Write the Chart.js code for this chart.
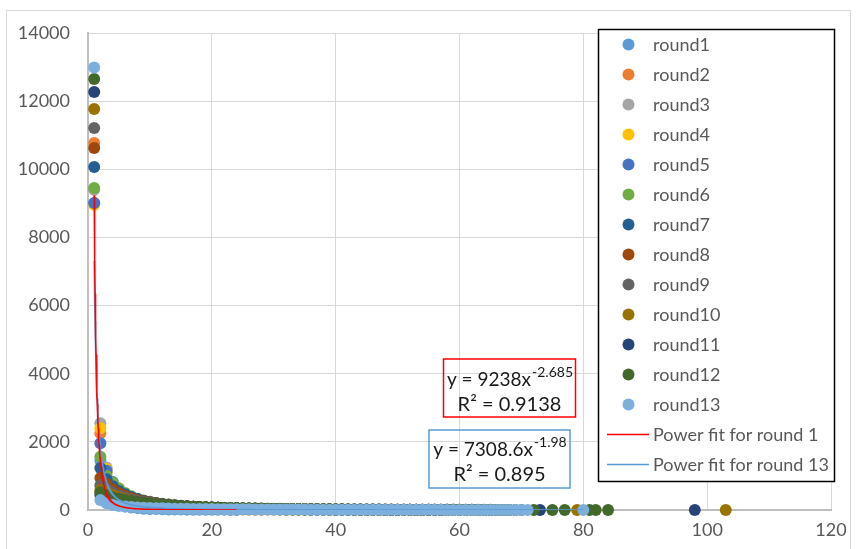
<!DOCTYPE html>
<html>
<head>
<meta charset="utf-8">
<script src="https://cdn.jsdelivr.net/npm/chart.js@4.4.1/dist/chart.umd.min.js"></script>
<style>
  html, body { margin: 0; padding: 0; background: #fff; }
  #wrap { width: 856px; height: 549px; }
</style>
</head>
<body>
<div id="wrap"><canvas id="chart" width="856" height="549"></canvas></div>
<script>
// Node counts per degree, one series per round (y at x = 1, 2, 3, ...)
const roundLabels = ['round1', 'round2', 'round3', 'round4', 'round5', 'round6', 'round7',
  'round8', 'round9', 'round10', 'round11', 'round12', 'round13'];
const roundColors = ['#5B9BD5', '#ED7D31', '#A5A5A5', '#FFC000', '#4472C4', '#70AD47', '#255E91',
  '#9E480E', '#636363', '#997300', '#264478', '#43682B', '#7CAFDD'];

const round1 = [9000, 1450, 520, 250, 150, 100, 70, 55, 40, 32, 26, 21, 18, 15, 13, 11, 9, 8, 7, 6, 5, 4, 3, 2];
const round2 = [10770, 2250, 1100, 650, 430, 310, 240, 190, 150, 125, 105, 90, 78, 68, 60, 52, 46, 40, 35, 31,
  27, 24, 20, 17, 14, 11, 8, 5];
const round3 = [9400, 2545, 1250, 760, 500, 370, 290, 230, 190, 160, 135, 115, 100, 88, 78, 69, 61, 54, 48, 43,
  38, 34, 30, 27, 24, 21, 18, 15, 12, 9, 6, 3];
const round4 = [8960, 2400, 1200, 780, 540, 400, 310, 250, 205, 172, 146, 126, 110, 96, 85, 75, 67, 60, 54, 48,
  43, 39, 35, 31, 28, 25, 22, 20, 17, 15, 13, 11, 9, 7, 5, 3];
const round5 = [9010, 1960, 1150, 820, 600, 450, 350, 285, 235, 198, 170, 147, 128, 112, 99, 88, 78, 70, 63, 57,
  51, 46, 42, 38, 34, 31, 28, 25, 23, 21, 19, 17, 15, 13, 11, 9, 7, 5, 4, 2];
const round6 = [9450, 1560, 1000, 800, 640, 500, 400, 330, 280, 240, 205, 178, 155, 136, 120, 106, 94, 84, 75, 67,
  60, 54, 49, 44, 40, 36, 33, 30, 27, 25, 22, 20, 18, 16, 15, 13, 12, 10, 9, 8, 6, 5, 4, 3, 2];
const round7 = [10070, 1230, 900, 700, 560, 460, 380, 320, 275, 238, 207, 181, 159, 141, 125, 111, 99, 89, 80, 72,
  65, 59, 53, 48, 44, 40, 36, 33, 30, 28, 25, 23, 21, 19, 17, 16, 14, 13, 12, 11, 10, 9, 8, 7, 6, 5, 4, 3, 2, 1];
const round8 = [10625, 940, 760, 600, 490, 410, 345, 295, 255, 222, 195, 172, 152, 135, 121, 108, 97, 88, 79, 72,
  65, 59, 54, 49, 45, 41, 38, 35, 32, 29, 27, 25, 23, 21, 19, 18, 16, 15, 14, 13, 12, 11, 10, 9, 8, 8, 7, 6, 6, 5,
  4, 4, 3, 2, 1];
const round9 = [11210, 730, 620, 510, 425, 360, 310, 268, 234, 205, 181, 161, 143, 128, 115, 104, 94, 85, 77, 70,
  64, 58, 53, 49, 45, 41, 38, 35, 32, 30, 28, 26, 24, 22, 20, 19, 18, 16, 15, 14, 13, 12, 11, 11, 10, 9, 9, 8, 7, 7,
  6, 6, 5, 5, 4, 4, 3, 3, 2, 1];
const round10 = [11770, 590, 520, 440, 370, 318, 276, 242, 213, 189, 168, 150, 135, 122, 110, 100, 91, 83, 76, 69,
  63, 58, 53, 49, 45, 42, 39, 36, 33, 31, 29, 27, 25, 23, 22, 20, 19, 18, 17, 16, 15, 14, 13, 12, 11, 11, 10, 9, 9, 8,
  8, 7, 7, 6, 6, 5, 5, 4, 4, 3, 3, 3, 2, 2, 1, 1];
const round11 = [12270, 440, 400, 360, 320, 285, 255, 228, 205, 184, 165, 149, 135, 122, 111, 101, 92, 84, 77, 71,
  65, 60, 55, 51, 47, 44, 41, 38, 35, 33, 31, 29, 27, 25, 24, 22, 21, 20, 19, 18, 17, 16, 15, 14, 13, 12, 12, 11, 10, 10,
  9, 9, 8, 8, 7, 7, 6, 6, 5, 5, 4, 4, 3, 3, 2, 2, 2, 1];
const round12 = [12650, 520, 430, 370, 320, 282, 250, 222, 199, 179, 162, 147, 134, 122, 112, 103, 95, 87, 80, 74,
  68, 63, 58, 54, 50, 47, 44, 41, 38, 36, 34, 32, 30, 28, 26, 25, 23, 22, 21, 20, 19, 18, 17, 16, 15, 14, 13, 13, 12, 11,
  11, 10, 10, 9, 9, 8, 8, 7, 7, 6, 6, 5, 5, 4, 4, 3, 3, 2, 2, 1];
const round13 = [12990, 290, 200, 150, 120, 100, 86, 75, 66, 59, 53, 48, 44, 40, 37, 34, 32, 30, 28, 26,
  24, 23, 22, 21, 20, 19, 18, 17, 16, 15, 14, 14, 13, 12, 12, 11, 11, 10, 10, 9, 9, 8, 8, 8, 7, 7, 7, 6, 6, 6,
  5, 5, 5, 4, 4, 4, 4, 3, 3, 3, 3, 2, 2, 2, 2, 2, 1, 1, 1, 1, 1];

// isolated high-degree points beyond each round's continuous run
const tailX = [[], [], [], [], [], [], [], [], [], [79, 103], [73, 98], [72, 75, 77, 81, 82, 84], [80]];
const tailY = [[], [], [], [], [], [], [], [], [], [1, 1], [1, 1], [1, 1, 1, 1, 1, 1], [1]];

const roundValues = [round1, round2, round3, round4, round5, round6, round7,
  round8, round9, round10, round11, round12, round13];

// power trendlines y = a * x^b
const fit1A = 9238, fit1B = -2.685, fit1R2 = '0.9138';
const fit13A = 7308.6, fit13B = -1.98, fit13R2 = '0.895';

const xTicks = { min: 0, max: 120, step: 20 };
const yTicks = { min: 0, max: 14000, step: 2000 };

const FONT = 'Lato, "Noto Sans", sans-serif';

function toPoints(values, xs, ys) {
  const pts = values.map((y, i) => ({ x: i + 1, y }));
  xs.forEach((x, i) => pts.push({ x, y: ys[i] }));
  return pts;
}

function powerCurve(a, b, xMax) {
  const pts = [];
  for (let x = 1; x <= xMax + 1e-9; x += 0.05) pts.push({ x, y: a * Math.pow(x, b) });
  return pts;
}

const roundSets = roundValues.map((vals, i) => ({
  label: roundLabels[i],
  data: toPoints(vals, tailX[i], tailY[i]),
  backgroundColor: roundColors[i],
  borderColor: roundColors[i],
  pointRadius: 6,
  pointBorderWidth: 0,
  showLine: false,
  clip: false,
  order: roundValues.length - i
}));

const lastX = pts => Math.max(...pts.map(p => p.x));

const fitSets = [
  {
    label: 'Power fit for round 1',
    data: powerCurve(fit1A, fit1B, lastX(roundSets[0].data)),
    borderColor: '#FF0000',
    borderWidth: 1.5,
    pointRadius: 0,
    showLine: true,
    order: 0
  },
  {
    label: 'Power fit for round 13',
    data: powerCurve(fit13A, fit13B, lastX(roundSets[12].data)),
    borderColor: '#5B9BD5',
    borderWidth: 1.5,
    pointRadius: 0,
    showLine: true,
    order: 0
  }
];

// frame around the whole chart
const framePlugin = {
  id: 'frame',
  beforeDraw(chart) {
    const ctx = chart.ctx;
    ctx.save();
    ctx.fillStyle = '#fff';
    ctx.fillRect(0, 0, chart.width, chart.height);
    ctx.strokeStyle = '#d9d9d9';
    ctx.lineWidth = 1;
    ctx.strokeRect(6.5, 10.5, 844, 560);
    ctx.restore();
  }
};

function drawEquation(ctx, cx, cy, a, b, r2) {
  ctx.save();
  ctx.fillStyle = '#1a1a1a';
  ctx.textBaseline = 'middle';
  const main = `y = ${a}x`;
  const sup = String(b);
  ctx.font = `19px ${FONT}`;
  const wMain = ctx.measureText(main).width;
  ctx.font = `14px ${FONT}`;
  const wSup = ctx.measureText(sup).width;
  const x0 = cx - (wMain + wSup) / 2;
  ctx.font = `19px ${FONT}`;
  ctx.textAlign = 'left';
  ctx.fillText(main, x0, cy);
  ctx.font = `14px ${FONT}`;
  ctx.fillText(sup, x0 + wMain + 1, cy - 8);
  ctx.font = `20px ${FONT}`;
  ctx.textAlign = 'center';
  ctx.fillText(`R² = ${r2}`, cx, cy + 25);
  ctx.restore();
}

const labelPlugin = {
  id: 'fitLabels',
  afterDatasetsDraw(chart) {
    const ctx = chart.ctx;
    ctx.save();
    ctx.lineWidth = 1.5;
    ctx.strokeStyle = '#FF0000';
    ctx.strokeRect(443.5, 359, 132, 58);
    ctx.strokeStyle = '#5B9BD5';
    ctx.strokeRect(429, 430, 141, 58);
    ctx.restore();
    drawEquation(ctx, 509.5, 380, fit1A, fit1B, fit1R2);
    drawEquation(ctx, 499.5, 450, fit13A, fit13B, fit13R2);
  }
};

const legendPlugin = {
  id: 'boxLegend',
  afterDraw(chart) {
    const ctx = chart.ctx;
    const sets = chart.data.datasets;
    ctx.save();
    ctx.fillStyle = '#fff';
    ctx.fillRect(598.5, 29.5, 236, 452);
    ctx.strokeStyle = '#000';
    ctx.lineWidth = 1.5;
    ctx.strokeRect(598.5, 29.5, 236, 452);
    ctx.font = `18px ${FONT}`;
    ctx.textBaseline = 'middle';
    ctx.textAlign = 'left';
    sets.forEach((ds, i) => {
      const y = 44.5 + i * 30;
      if (ds.showLine) {
        ctx.strokeStyle = ds.borderColor;
        ctx.lineWidth = 1.5;
        ctx.beginPath();
        ctx.moveTo(607, y);
        ctx.lineTo(649, y);
        ctx.stroke();
      } else {
        ctx.fillStyle = ds.backgroundColor;
        ctx.beginPath();
        ctx.arc(628.5, y, 6, 0, Math.PI * 2);
        ctx.fill();
      }
      ctx.fillStyle = '#595959';
      ctx.fillText(ds.label, 653, y + 1);
    });
    ctx.restore();
  }
};

const tickFont = { family: FONT, size: 18 };

new Chart(document.getElementById('chart'), {
  type: 'scatter',
  data: { datasets: [...roundSets, ...fitSets] },
  options: {
    responsive: false,
    animation: false,
    devicePixelRatio: 1,
    layout: { padding: { top: 33, right: 25, left: 0, bottom: 0 } },
    plugins: { legend: { display: false }, tooltip: { enabled: false } },
    scales: {
      x: {
        type: 'linear',
        min: xTicks.min,
        max: xTicks.max,
        ticks: { stepSize: xTicks.step, color: '#595959', font: tickFont, padding: 9 },
        grid: { color: '#d9d9d9', drawTicks: false },
        border: { color: '#bfbfbf', width: 2 },
        afterFit: s => { s.height = 39; }
      },
      y: {
        type: 'linear',
        min: yTicks.min,
        max: yTicks.max,
        ticks: { stepSize: yTicks.step, color: '#595959', font: tickFont, padding: 18, callback: v => String(v) },
        grid: { color: '#d9d9d9', drawTicks: false },
        border: { color: '#bfbfbf', width: 2 },
        afterFit: s => { s.width = 88; }
      }
    }
  },
  plugins: [framePlugin, labelPlugin, legendPlugin]
});
</script>
</body>
</html>
